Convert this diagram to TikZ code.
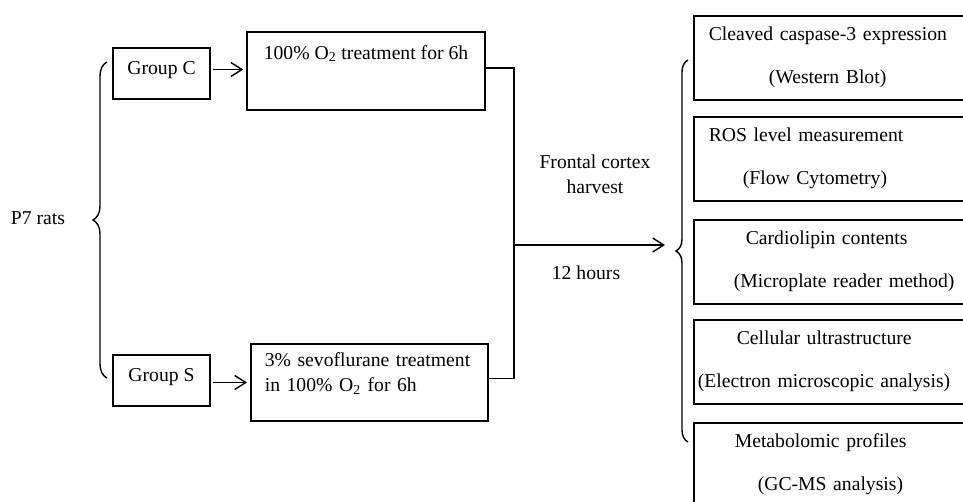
\documentclass[tikz,border=0pt]{standalone}
\usepackage{fontspec}
\setmainfont{Liberation Serif}
\usetikzlibrary{calc}
\usetikzlibrary{arrows.meta}
\usetikzlibrary{decorations.pathreplacing}

\tikzset{
  grpbox/.style={draw, line width=0.9pt, minimum width=1.94cm, inner ysep=0pt,
    text height=0.52cm, text depth=0.5cm},
  trtbox/.style={draw, line width=0.9pt, inner ysep=0pt},
  resbox/.style={draw, line width=0.9pt, anchor=north west, text width=5.84cm,
    align=left, inner xsep=0.08cm, inner ysep=0pt, text height=0.5cm,
    text depth=1.18cm, font=\fontsize{11.2}{24.5}\selectfont},
  arr/.style={-{Straight Barb[length=0.22cm,width=0.28cm]}},
  brc/.style={decorate, decoration={brace, amplitude=#1}}
}

\begin{document}
\begin{tikzpicture}[x=0.02cm, y=-0.02cm, line width=0.8pt,
    font=\fontsize{11.2}{14.2}\selectfont]
    \useasboundingbox (0,0) rectangle (963,501);
    \clip (0,0) rectangle (963,501);

    \node[anchor=base] (rats) at (38,224) {P7 rats};
    \node[grpbox] (grpC) at (161.5,73.5) {Group C};
    \node[grpbox] (grpS) at (161.5,380.5) {Group S};

    \node[trtbox, minimum width=4.76cm, text height=0.54cm, text depth=1.02cm] (oxy) at (366,71)
        {100\% O\textsubscript{2} treatment for 6h};
    \node[trtbox, anchor=north west, text width=4.18cm, align=left, inner xsep=0.28cm,
        text height=0.46cm, text depth=1.08cm] (sevo) at (250,343)
        {3\% sevoflurane treatment\\in 100\% O\textsubscript{2} for 6h};

    \node[resbox] (wb) at (693,15)
        {\hspace*{0.22cm}Cleaved caspase-3 expression\\\hspace*{1.42cm}(Western Blot)};
    \node[resbox] (ros) at (693,116)
        {\hspace*{0.22cm}ROS level measurement\\\hspace*{0.9cm}(Flow Cytometry)};
    \node[resbox] (cl) at (693,219)
        {\hspace*{0.96cm}Cardiolipin contents\\\hspace*{0.72cm}(Microplate reader method)};
    \node[resbox] (em) at (693,319)
        {\hspace*{0.78cm}Cellular ultrastructure\\(Electron microscopic analysis)};
    \node[resbox] (gcms) at (693,422)
        {\hspace*{0.74cm}Metabolomic profiles\\\hspace*{1.2cm}(GC-MS analysis)};

    \coordinate (join) at (514,245);
    \coordinate (tip) at (665,245);
    \coordinate (oxyout) at ($(oxy.east)+(0,-3)$);
    \coordinate (sevoout) at ($(sevo.east)+(0,-4)$);
    \coordinate (grpCout) at ($(grpC.east)+(0,-4)$);
    \coordinate (grpSout) at ($(grpS.east)+(0,2)$);

    \draw[brc=0.28cm] (107,378) -- (107,62);
    \draw[brc=0.24cm] (688,442) -- (688,60);

    \draw[arr, shorten <=1pt, shorten >=1.7pt] (grpCout) -- (grpCout -| oxy.west);
    \draw[arr, shorten <=1pt, shorten >=1.7pt] (grpSout) -- (grpSout -| sevo.west);

    \draw (oxyout) -| (join) |- (sevoout);
    \draw[arr] (join) -- (tip);

    \node[anchor=base, align=center] (harv) at (595,193) {Frontal cortex\\harvest};
    \node[anchor=base] (hrs) at (586,279) {12 hours};
\end{tikzpicture}
\end{document}
